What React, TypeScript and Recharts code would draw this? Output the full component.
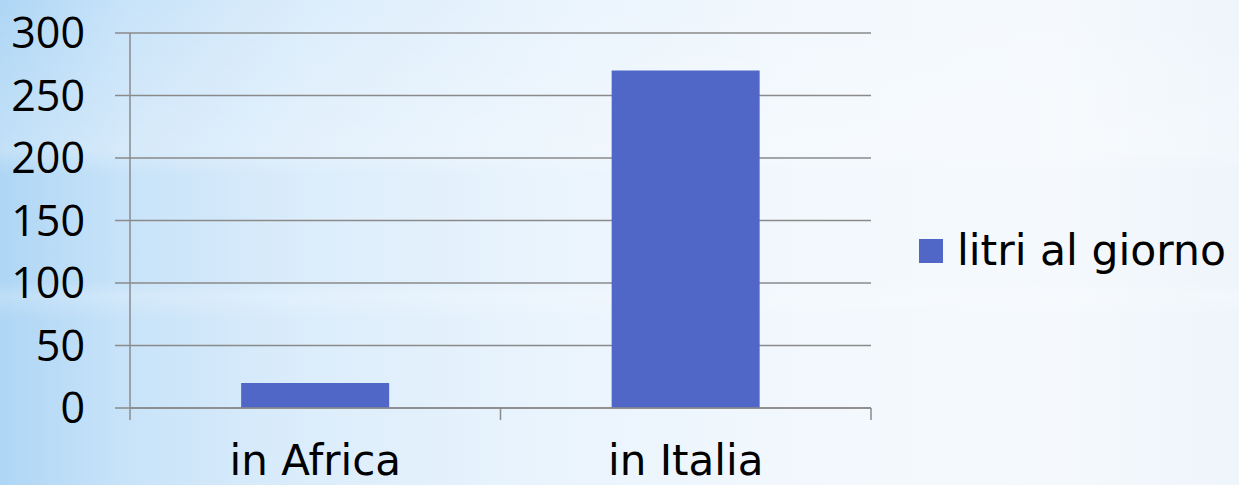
import { BarChart, Bar, XAxis, YAxis, CartesianGrid, Legend } from "recharts"

const categories = ["in Africa", "in Italia"]
const litriAlGiorno = [20, 270]
const yTicks = [0, 50, 100, 150, 200, 250, 300]
const seriesName = "litri al giorno"

const data = categories.map((c, i) => ({ name: c, litri: litriAlGiorno[i] }))

const FONT = "'DejaVu Sans', sans-serif"
const NUM_FONT = "'Open Sans', sans-serif"
const GRID = "#8a8a8a"
const BAR = "#5067c8"

// category ticks in the reference sit on the band edges, not the centres
function CategoryTick(props: any) {
  const { x, y, payload, index } = props
  const half = payload && payload.offset ? payload.offset : 185
  const last = index === categories.length - 1
  return (
    <g>
      <line x1={x - half} y1={y - 12} x2={x - half} y2={y} stroke={GRID} strokeWidth={1.5} />
      {last && <line x1={x + half} y1={y - 12} x2={x + half} y2={y} stroke={GRID} strokeWidth={1.5} />}
      <text x={x} y={y + 55} textAnchor="middle" fontSize={42} fontFamily={FONT} fill="#000">
        {payload.value}
      </text>
    </g>
  )
}

function LegendBox() {
  return (
    <div style={{ width: 324, height: 50, display: "flex", alignItems: "center", whiteSpace: "nowrap" }}>
      <span style={{ display: "inline-block", width: 24, height: 24, background: BAR, marginLeft: 4, marginRight: 14 }} />
      <span style={{ fontFamily: FONT, fontSize: 42.5, color: "#000", lineHeight: "50px" }}>{seriesName}</span>
    </div>
  )
}

export default function App() {
  return (
    <div
      style={{
        position: "fixed",
        left: 0,
        top: 0,
        width: 1239,
        height: 485,
        background:
          "linear-gradient(to bottom, rgba(255,255,255,0) 0%, rgba(255,255,255,0.25) 31%, rgba(255,255,255,0) 36%, rgba(255,255,255,0) 58%, rgba(255,255,255,0.2) 61%, rgba(255,255,255,0) 66%), linear-gradient(to right, #aed6f5 0%, #c8e3f9 10%, #dcedfb 25%, #eaf4fd 45%, #f2f8fd 65%, #f5f9fd 85%, #eef5fb 100%)",
      }}
    >
      <BarChart
        width={1239}
        height={485}
        data={data}
        margin={{ top: 33, right: 44, bottom: 0, left: 0 }}
        barCategoryGap="30%"
      >
        <CartesianGrid vertical={false} stroke={GRID} strokeWidth={1.5} />
        <XAxis
          dataKey="name"
          interval={0}
          height={77}
          axisLine={{ stroke: GRID, strokeWidth: 1.5 }}
          tickLine={false}
          tickSize={12}
          tickMargin={0}
          tick={<CategoryTick />}
        />
        <YAxis
          domain={[0, 300]}
          ticks={yTicks}
          interval={0}
          width={130}
          axisLine={{ stroke: GRID, strokeWidth: 1.5 }}
          tickLine={{ stroke: GRID, strokeWidth: 1.5 }}
          tickSize={15}
          tickMargin={30}
          tick={{ fontSize: 43, fontFamily: NUM_FONT, fill: "#000" }}
        />
        <Legend
          layout="vertical"
          align="right"
          verticalAlign="middle"
          wrapperStyle={{ left: 915, top: 226 }}
          content={<LegendBox />}
        />
        <Bar dataKey="litri" name={seriesName} fill={BAR} isAnimationActive={false} />
      </BarChart>
    </div>
  )
}
